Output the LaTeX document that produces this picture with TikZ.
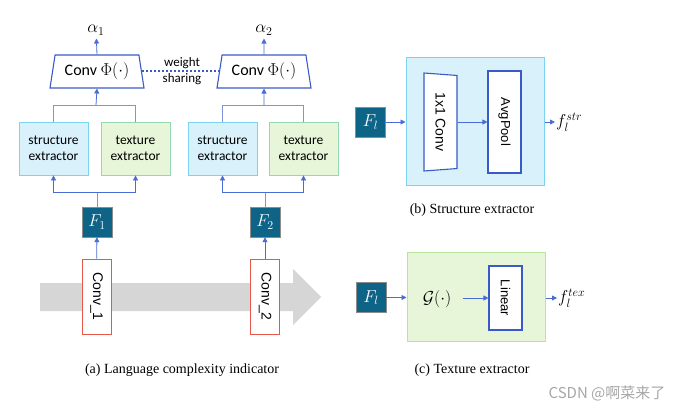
\documentclass[tikz,border=0pt]{standalone}
\usepackage{fontspec}
\usepackage{amsmath,amssymb}
\setmainfont{Liberation Serif}
\setsansfont{Liberation Sans}
\newfontfamily\calibri{Carlito}
\newfontfamily\cjk{Noto Sans CJK SC}
\usetikzlibrary{arrows.meta, shapes.geometric}

\definecolor{feat}{HTML}{0E6487}
\definecolor{arrblue}{HTML}{4A6CD4}
\definecolor{linkblue}{HTML}{8094DC}
\definecolor{trapblue}{HTML}{3A5BC7}
\definecolor{strfill}{HTML}{D8F1FB}
\definecolor{strline}{HTML}{7CD3EF}
\definecolor{texfill}{HTML}{E7F5D8}
\definecolor{texline}{HTML}{93D8B0}
\definecolor{panelgreen}{HTML}{B8E49C}
\definecolor{convred}{HTML}{E8584A}
\definecolor{flowgray}{HTML}{D6D6D6}

\tikzset{
  featbox/.style={rectangle, fill=feat, draw=black!45, minimum size=30pt, inner sep=0pt,
    text=white, font=\fontsize{17}{17}\selectfont},
  strbox/.style={rectangle, fill=strfill, draw=strline, line width=0.8pt, minimum width=69pt,
    minimum height=53pt, align=center, font=\calibri\fontsize{13.5}{16.5}\selectfont},
  texbox/.style={strbox, fill=texfill, draw=texline},
  phibox/.style={trapezium, draw=trapblue, line width=1.1pt, fill=white, trapezium angle=78,
    trapezium stretches body, minimum width=94pt, minimum height=33pt,
    font=\calibri\fontsize{16}{16}\selectfont},
  convbox/.style={rectangle, draw=convred, fill=white, line width=0.9pt, minimum width=29pt,
    minimum height=75pt, inner sep=0pt, font=\sffamily\fontsize{14}{14}\selectfont},
  layerbox/.style={rectangle, draw=trapblue, fill=white, line width=1.1pt, minimum width=33pt,
    inner sep=0pt, font=\sffamily\fontsize{13}{13}\selectfont},
  mathlabel/.style={font=\fontsize{17}{17}\selectfont},
  caption/.style={font=\fontsize{14}{16}\selectfont},
  link/.style={draw=linkblue, line width=0.8pt},
  arr/.style={link, arrblue, -{Triangle[length=5pt,width=5pt]}},
  sharing/.style={draw=trapblue, line width=2pt, dash pattern=on 2pt off 2pt}
}

\begin{document}
\begin{tikzpicture}[x=1pt, y=-1pt]
	\useasboundingbox (0,0) rectangle (688,412);

	% (a) language complexity indicator
	\fill[flowgray] (40,283) -- (293,283) -- (293,269) -- (321,297) -- (293,325)
	  -- (293,311) -- (40,311) -- cycle;

	\node[convbox] (c1) at (96.5,296.5) {\rotatebox{-90}{Conv\_1}};
	\node[convbox] (c2) at (265,296.5) {\rotatebox{-90}{Conv\_2}};

	\node[featbox] (f1) at (97,222) {$F_1$};
	\node[featbox] (f2) at (265,222) {$F_2$};

	\node[strbox] (s1) at (53.5,148.5) {structure\\extractor};
	\node[texbox] (t1) at (135.5,148.5) {texture\\extractor};
	\node[strbox] (s2) at (222.5,148.5) {structure\\extractor};
	\node[texbox] (t2) at (303.5,148.5) {texture\\extractor};

	\node[phibox] (p1) at (97,71.5) {Conv $\Phi(\cdot)$};
	\node[phibox] (p2) at (264,71.5) {Conv $\Phi(\cdot)$};

	\node[mathlabel] (a1) at (96,30) {$\alpha_1$};
	\node[mathlabel] (a2) at (264,30) {$\alpha_2$};

	\node[align=center, font=\calibri\fontsize{13}{16}\selectfont] (ws) at (182,71) {weight\\sharing};

	\coordinate (j1) at (97,192);
	\coordinate (j2) at (265,192);
	\coordinate (k1) at (96,105);
	\coordinate (k2) at (264,105);

	\draw[arr] (c1) -- (f1);
	\draw[arr] (c2) -- (f2);
	\draw[link] (f1) -- (j1);
	\draw[link] (f2) -- (j2);
	\draw[arr] (j1) -| (s1.south);
	\draw[arr] (j1) -| (t1.south);
	\draw[arr] (j2) -| (s2.south);
	\draw[arr] (j2) -| (t2.south);
	\draw[link] (s1.north) |- (k1);
	\draw[link] (t1.north) |- (k1);
	\draw[link] (s2.north) |- (k2);
	\draw[link] (t2.north) |- (k2);
	\draw[arr] (k1) -- (p1.south);
	\draw[arr] (k2) -- (p2.south);
	\draw[arr] (p1.north) -- (a1);
	\draw[arr] (p2.north) -- (a2);
	\draw[sharing] (p1.east) -- (p2.west);

	\node[caption] (capa) at (182,370) {(a) Language complexity indicator};

	% (b) structure extractor
	\node[rectangle, fill=strfill, draw=strline, line width=1pt, minimum width=138pt,
	  minimum height=127pt] (strpanel) at (475,121.5) {};
	\node[featbox] (fl1) at (370.5,122) {$F_l$};
	\node[trapezium, draw=trapblue, line width=1.1pt, fill=white, shape border rotate=270,
	  trapezium angle=76, trapezium stretches body, minimum width=98pt, minimum height=33pt,
	  inner sep=0pt, font=\sffamily\fontsize{14}{14}\selectfont] (conv) at (440.5,122)
	  {\rotatebox{-90}{1x1 Conv}};
	\node[layerbox, minimum height=102pt] (avg) at (504.5,122) {\rotatebox{-90}{AvgPool}};
	\node[anchor=west, mathlabel, inner sep=1pt] (fstr) at (555,122) {$f_l^{str}$};

	\draw[arr] (fl1) -- (strpanel.west |- fl1);
	\draw[arr] (conv.east |- avg) -- (avg.west);
	\draw[arr] (strpanel.east |- fl1) -- (fstr.west |- fl1);

	\node[caption] (capb) at (472,210) {(b) Structure extractor};

	% (c) texture extractor
	\node[rectangle, fill=texfill, draw=panelgreen, line width=1pt, minimum width=138pt,
	  minimum height=89pt] (texpanel) at (476,296.5) {};
	\node[featbox] (fl2) at (371,297.5) {$F_l$};
	\node[font=\fontsize{16}{16}\selectfont] (gfun) at (437,299) {$\mathcal{G}(\cdot)$};
	\node[layerbox, minimum height=64pt] (lin) at (505.5,298) {\rotatebox{-90}{Linear}};
	\node[anchor=west, mathlabel, inner sep=1pt] (ftex) at (557,298) {$f_l^{tex}$};

	\draw[arr] (fl2) -- (texpanel.west |- fl2);
	\draw[arr, shorten <=8pt] (gfun.east |- lin) -- (lin.west);
	\draw[arr] (texpanel.east |- lin) -- (ftex.west |- lin);

	\node[caption] (capc) at (472,370) {(c) Texture extractor};

	\node[text=black!35, font=\cjk\fontsize{15}{15}\selectfont] (wm) at (607,393) {CSDN @啊菜来了};
\end{tikzpicture}
\end{document}
